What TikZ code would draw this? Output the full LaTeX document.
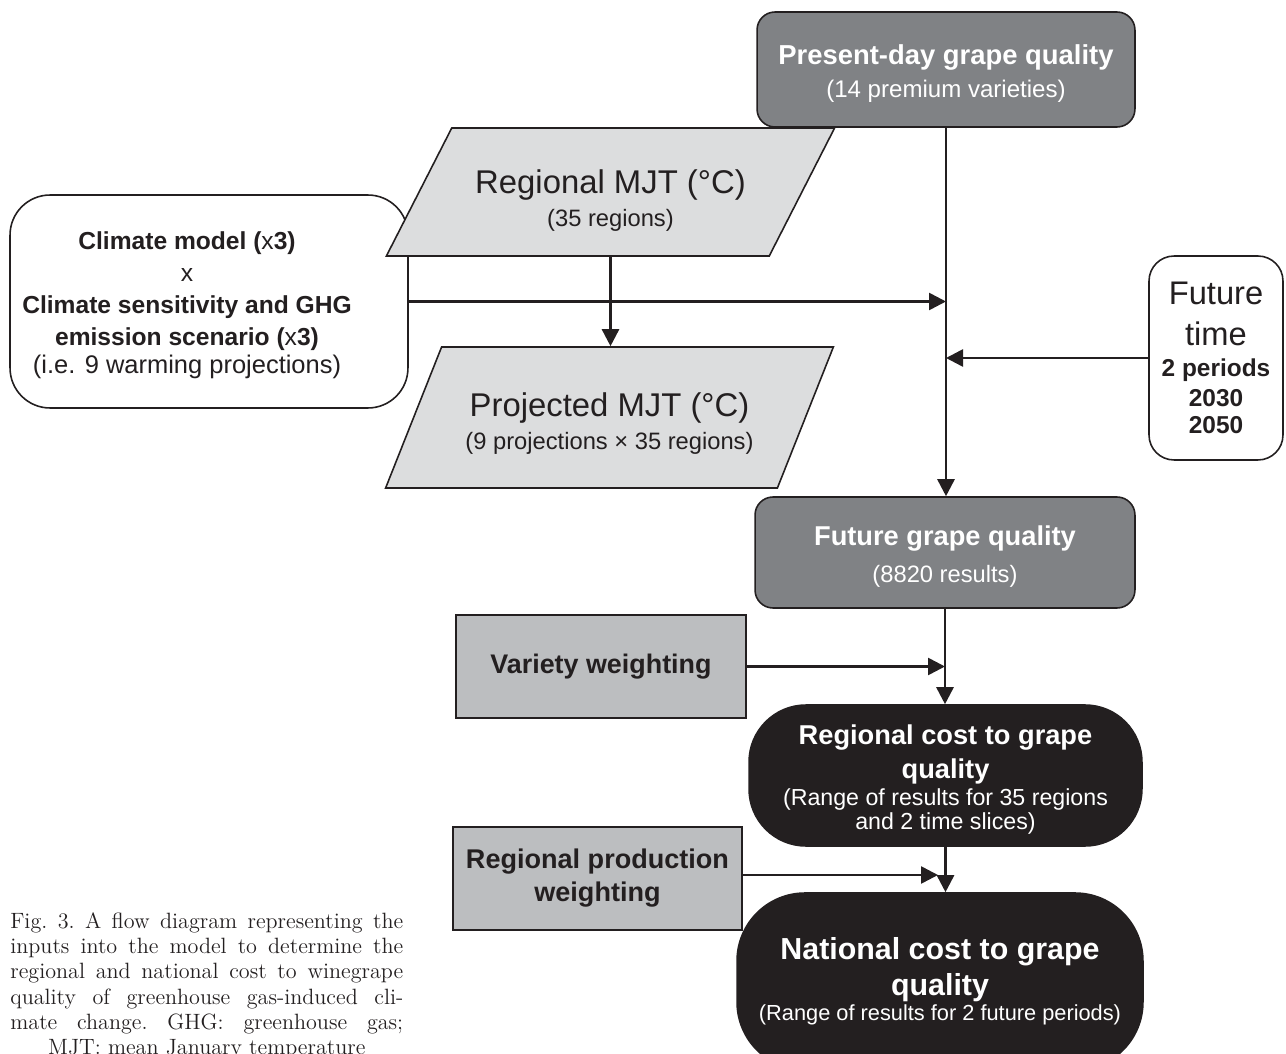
\documentclass[tikz,border=0pt]{standalone}
\usepackage{fontspec}
\usepackage{tikz}
\usetikzlibrary{arrows.meta}
\usetikzlibrary{shapes.geometric}
\newfontfamily\diagfont{Liberation Sans}
\definecolor{darkgrey}{RGB}{128,130,133}
\definecolor{palegrey}{RGB}{220,221,222}
\definecolor{midgrey}{RGB}{188,190,192}
\definecolor{inkblack}{RGB}{35,31,32}
\newcommand{\fsz}[2]{\fontsize{#1}{#2}\selectfont}
\tikzset{
  quality/.style={draw=inkblack, line width=0.9pt, fill=darkgrey, text=white,
    rounded corners=0.36cm, align=center, inner sep=0pt},
  inputbox/.style={draw=inkblack, line width=0.9pt, fill=white, text=inkblack,
    align=center, inner sep=0pt},
  mjt/.style={trapezium, trapezium stretches=true, draw=inkblack, line width=0.9pt,
    fill=palegrey, text=inkblack, align=center, inner sep=0pt,
    font=\diagfont\fsz{13.5}{18.8}},
  weight/.style={draw=inkblack, line width=0.9pt, fill=midgrey, text=inkblack,
    align=center, inner sep=0pt},
  cost/.style={draw=inkblack, line width=0.9pt, fill=inkblack, text=white,
    align=center, inner sep=0pt},
  flow/.style={draw=inkblack, line width=1.5pt,
    -{Triangle[length=0.34cm,width=0.34cm]}},
}

\begin{document}
\begin{tikzpicture}[x=0.02cm, y=-0.02cm]
  \useasboundingbox (0,0) rectangle (1286,1054);
  % inputs
  \node[quality, minimum width=7.56cm, minimum height=2.3cm, font=\diagfont\fsz{13.7}{18.5}]
    (pres) at (946,69.5) {\mbox{}\\[-2.5pt]{\bfseries\fsz{15.6}{18}Present-day grape quality}\\(14 premium varieties)};
  \node[inputbox, rounded corners=0.8cm, minimum width=7.96cm, minimum height=4.26cm,
    label={[font=\diagfont\fsz{14}{18.2}, align=center, text=inkblack, xshift=-0.44cm, yshift=-0.08cm]center:{%
      {\bfseries Climate model ({\mdseries x}3)}\\x\\{\bfseries Climate sensitivity and GHG}\\
      {\bfseries emission scenario ({\mdseries x}3)}\\[-2pt]{\fsz{14.5}{17}(i.e. 9 warming projections)}}}]
    (clim) at (209,301.5) {};
  \node[mjt, minimum width=8.98cm, minimum height=2.56cm,
    trapezium left angle=54.6, trapezium right angle=125.4]
    (rmjt) at (610.5,192) {\mbox{}\\[4.2pt]{\fsz{18.7}{20}Regional MJT (°C)}\\(35 regions)};
  \node[mjt, minimum width=8.98cm, minimum height=2.82cm,
    trapezium left angle=57.2, trapezium right angle=122.8]
    (pmjt) at (609.5,417.5) {\mbox{}\\[2pt]{\fsz{18.7}{20}Projected MJT (°C)}\\(9 projections × 35 regions)};
  \node[inputbox, rounded corners=0.5cm, minimum width=2.68cm, minimum height=4.08cm,
    font=\diagfont\fsz{13.9}{17}]
    (ftime) at (1216,358) {{\fsz{18.6}{20}Future}\\[6.3pt]{\fsz{18.6}{20}time}\\[0.6pt]
      {\bfseries 2 periods}\\{\bfseries 2030}\\[-1.1pt]{\bfseries 2050}};
  % results
  \node[quality, minimum width=7.6cm, minimum height=2.22cm, font=\diagfont\fsz{13.5}{21}]
    (fut) at (945,552.5) {\mbox{}\\[-5.1pt]{\bfseries\fsz{15.5}{18}Future grape quality}\\(8820 results)};
  \node[weight, minimum width=5.8cm, minimum height=2.06cm, font=\diagfont\bfseries\fsz{15.3}{18.8}]
    (var) at (601,666.5) {Variety weighting};
  \node[cost, rounded corners=1.14cm, minimum width=7.86cm, minimum height=2.82cm,
    font=\diagfont\fsz{13.2}{18.8}]
    (rcost) at (945.5,775.5) {\mbox{}\\[-2.9pt]{\bfseries\fsz{15.5}{18}Regional cost to grape}\\
      {\bfseries\fsz{15.5}{18}quality}\\[-3.4pt](Range of results for 35 regions\\[-5.1pt]and 2 time slices)};
  \node[weight, minimum width=5.78cm, minimum height=2.06cm, font=\diagfont\bfseries\fsz{15.4}{18.8}]
    (rprod) at (597.5,878.5) {Regional production\\weighting};
  \node[cost, rounded corners=1.36cm, minimum width=8.12cm, minimum height=3.54cm,
    font=\diagfont\fsz{12.4}{20.5}]
    (nat) at (940,981.5) {{\bfseries\fsz{17.3}{20}National cost to grape}\\
      {\bfseries\fsz{17.3}{20}quality}\\[-6.3pt](Range of results for 2 future periods)};
  \coordinate (natin) at (938,875);
  % connectors
  \draw[flow] (pres.south) -- (pres.south |- fut.north);
  \draw[flow] (clim.east) -- (clim.east -| pres.south);
  \draw[flow] (rmjt.center |- rmjt.south) -- (rmjt.center |- pmjt.north);
  \draw[flow] (ftime.west) -- (ftime.west -| pres.south);
  \draw[flow] (fut.south) -- (fut.south |- rcost.north);
  \draw[flow] (var.east) -- (var.east -| fut.south);
  \draw[flow] (rcost.south) -- (rcost.south |- nat.north);
  \draw[flow] (rprod.east |- natin) -- (natin);
  % caption
  \node[anchor=north west, inner sep=0pt, text width=7.86cm, align=justify,
    text=inkblack, font=\frenchspacing\fsz{12.6}{14.4}]
    (caption) at (10,912) {Fig. 3. A flow diagram representing the\linebreak
      inputs into the model to determine the\linebreak
      regional and national cost to winegrape\linebreak
      quality of greenhouse gas-induced cli-\linebreak
      mate change. GHG: greenhouse gas;\linebreak
      \hspace*{\fill}MJT: mean January temperature\hspace*{\fill}};
\end{tikzpicture}
\end{document}
